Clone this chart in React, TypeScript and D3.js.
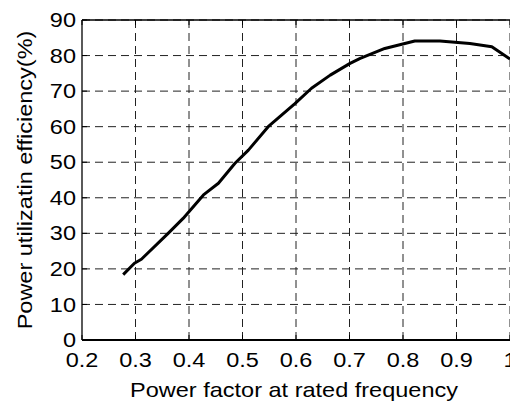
import React from "react";
import * as d3 from "d3";

const pfValues = [0.277, 0.298, 0.311, 0.361, 0.389, 0.427, 0.455, 0.486, 0.511, 0.548, 0.598, 0.629, 0.664, 0.701, 0.72, 0.766, 0.822, 0.869, 0.925, 0.966, 1.0];
const effValues = [18.4, 21.6, 22.7, 30.0, 34.2, 40.8, 44.1, 49.7, 53.4, 60.0, 66.5, 70.8, 74.5, 77.8, 79.2, 82.0, 84.1, 84.1, 83.4, 82.5, 79.0];
const xTicks = [0.2, 0.3, 0.4, 0.5, 0.6, 0.7, 0.8, 0.9, 1];
const yTicks = [0, 10, 20, 30, 40, 50, 60, 70, 80, 90];
const xTitle = "Power factor at rated frequency";
const yTitle = "Power utilizatin efficiency(%)";

const W = 510;
const H = 406;
const L = 82, R = 510, T = 20, B = 340;
const FS = 21;
const SX = 1.12;
const FONT = "'Liberation Sans', Arial, sans-serif";

export default function App() {
  const x = d3.scaleLinear().domain([0.2, 1]).range([L, R]);
  const y = d3.scaleLinear().domain([0, 90]).range([B, T]);
  const line = d3.line<number>()
    .x((_, i) => x(pfValues[i]))
    .y((d) => y(d))
    .curve(d3.curveLinear);
  const fmtX = (v: number) => (v === 1 ? "1" : v.toFixed(1));

  return (
    <svg width={W} height={H} style={{ position: "absolute", left: 0, top: 0, background: "#fff" }}>
      <rect x={0} y={0} width={W} height={H} fill="#fff" />
      {/* grid */}
      {xTicks.slice(1).map((t) => (
        <line key={"gx" + t} x1={x(t)} x2={x(t)} y1={B} y2={T} stroke="#222" strokeWidth={1} strokeDasharray="8,5" />
      ))}
      {yTicks.slice(1).map((t) => (
        <line key={"gy" + t} x1={L} x2={R} y1={y(t)} y2={y(t)} stroke="#222" strokeWidth={1} strokeDasharray="8,5" />
      ))}
      {/* ticks */}
      {xTicks.map((t) => (
        <g key={"tx" + t}>
          <line x1={x(t)} x2={x(t)} y1={B} y2={B - 5} stroke="#000" />
          <line x1={x(t)} x2={x(t)} y1={T} y2={T + 5} stroke="#000" />
        </g>
      ))}
      {yTicks.map((t) => (
        <line key={"ty" + t} x1={L} x2={L + 5} y1={y(t)} y2={y(t)} stroke="#000" />
      ))}
      {/* box */}
      <line x1={L} x2={R} y1={T} y2={T} stroke="#000" strokeWidth={1.3} />
      <line x1={L} x2={R} y1={B} y2={B} stroke="#000" strokeWidth={1.8} />
      <line x1={L} x2={L} y1={T} y2={B} stroke="#000" strokeWidth={1.3} />
      {/* curve */}
      <path d={line(effValues) || ""} fill="none" stroke="#000" strokeWidth={3} strokeLinejoin="round" />
      {/* tick labels */}
      {yTicks.map((t) => (
        <text key={"ly" + t} transform={`translate(76,${y(t)}) scale(${SX},1)`} textAnchor="end" dominantBaseline="central"
          fontFamily={FONT} fontSize={FS} fill="#000">{t}</text>
      ))}
      {xTicks.map((t) => (
        <text key={"lx" + t} transform={`translate(${x(t)},366.5) scale(${SX},1)`} textAnchor="middle"
          fontFamily={FONT} fontSize={FS} fill="#000">{fmtX(t)}</text>
      ))}
      {/* titles */}
      <text transform={`translate(294,396.5) scale(${SX},1)`} textAnchor="middle" fontFamily={FONT} fontSize={FS} fill="#000">{xTitle}</text>
      <text transform={`translate(32,180) rotate(-90) scale(${SX},1)`} textAnchor="middle" fontFamily={FONT} fontSize={FS} fill="#000">{yTitle}</text>
    </svg>
  );
}
